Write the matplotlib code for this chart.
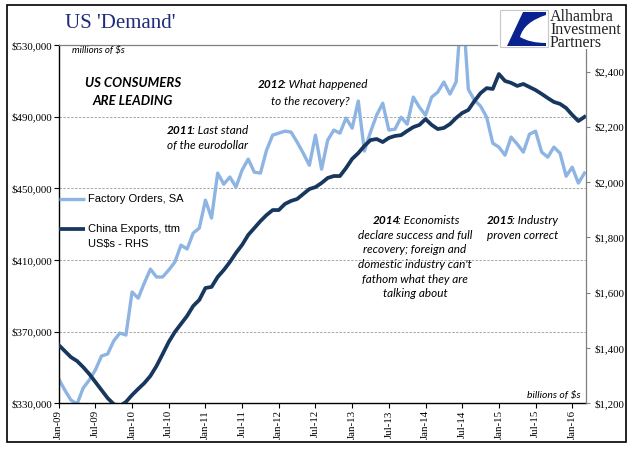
import numpy as np
import matplotlib
matplotlib.use("Agg")
from matplotlib import pyplot as plt
from matplotlib.path import Path
from matplotlib.patches import PathPatch, Rectangle
from matplotlib.ticker import FuncFormatter, FixedLocator

# monthly, Jan-09 .. Mar-16
months = np.arange(87)
tick_pos = list(range(0, 85, 6))
tick_labels = ['Jan-09', 'Jul-09', 'Jan-10', 'Jul-10', 'Jan-11', 'Jul-11', 'Jan-12', 'Jul-12',
               'Jan-13', 'Jul-13', 'Jan-14', 'Jul-14', 'Jan-15', 'Jul-15', 'Jan-16']

# Factory Orders, SA (millions of $)
factory = [343600, 337400, 331800, 329600, 338500, 343000, 348600, 356400, 357500, 364800,
           369200, 368100, 392100, 388700, 397100, 404900, 400500, 400500, 404400, 408800,
           418300, 416100, 425000, 427800, 443400, 433400, 458500, 452300, 456300, 450700,
           460200, 466300, 459000, 458500, 471300, 479700, 480800, 481900, 481400, 475800,
           469600, 462900, 479700, 460700, 476900, 482500, 480800, 489200, 483600, 498700,
           470800, 481400, 490800, 497500, 482500, 483000, 489700, 485800, 500900, 495300,
           490800, 500900, 503700, 509300, 502600, 509300, 556000, 505300, 499200, 495900,
           489700, 475200, 473000, 468500, 478600, 474700, 470200, 480200, 481900, 470200,
           467400, 473000, 469600, 456800, 461800, 452900, 458500]

# China Exports, ttm (billions of US$)
exports = [1411, 1389, 1367, 1353, 1331, 1306, 1277, 1248, 1219, 1197,
           1190, 1205, 1230, 1252, 1273, 1299, 1335, 1378, 1422, 1458,
           1487, 1516, 1552, 1574, 1617, 1621, 1657, 1682, 1711, 1744,
           1773, 1809, 1834, 1859, 1881, 1899, 1899, 1921, 1932, 1939,
           1957, 1975, 1982, 1997, 2015, 2022, 2022, 2051, 2084, 2105,
           2131, 2152, 2156, 2145, 2160, 2167, 2170, 2185, 2199, 2207,
           2228, 2207, 2192, 2196, 2210, 2232, 2250, 2261, 2293, 2322,
           2340, 2337, 2391, 2366, 2359, 2348, 2355, 2344, 2333, 2319,
           2304, 2290, 2283, 2268, 2243, 2221, 2236]

light = '#8db4e2'
dark = '#17375e'
serif = 'Liberation Serif'
note = 'Lato'

W, H = 641, 461
fig = plt.figure(figsize=(W / 100, H / 100), dpi=100)
fig.patch.set_facecolor('white')

# plot area in pixels: x 58.7..585.7, y 45..403.3
ax = fig.add_axes([58.7 / W, 1 - 403.3 / H, 527 / W, 358.3 / H])
ax.plot(months, factory, color=light, lw=2.4, solid_joinstyle='round')
ax.set_xlim(0, 86.2)
ax.set_ylim(330000, 530000)
ax.set_yticks(np.arange(330000, 530001, 40000))
ax.yaxis.set_major_formatter(FuncFormatter(lambda v, p: '${:,.0f}'.format(v)))
ax.xaxis.set_major_locator(FixedLocator(tick_pos))
ax.set_xticklabels(tick_labels, rotation=90, fontfamily=serif, fontsize=7.8)
ax.tick_params(axis='x', length=3.5, width=0.8, pad=1.5)
ax.tick_params(axis='y', length=3.5, width=0.8, pad=1.5, labelsize=7.8)
for lab in ax.get_yticklabels():
    lab.set_fontfamily(serif)
for y in [370000, 410000, 450000, 490000]:
    ax.axhline(y, color='#a6a6a6', lw=0.7, ls=(0, (2.5, 1.5)), zorder=0)
ax.spines['right'].set_visible(False)
ax.spines['top'].set_color('#808080')
ax.spines['top'].set_linewidth(0.9)
ax.spines['left'].set_linewidth(1.0)
ax.spines['bottom'].set_linewidth(1.0)

ax2 = ax.twinx()
ax2.plot(months, exports, color=dark, lw=2.7, solid_joinstyle='round')
ax2.set_ylim(1200, 2496)
ax2.set_yticks(np.arange(1200, 2401, 200))
ax2.yaxis.set_major_formatter(FuncFormatter(lambda v, p: '${:,.0f}'.format(v)))
ax2.tick_params(axis='y', length=3, width=0.8, pad=3, labelsize=7.8, color='#808080')
for lab in ax2.get_yticklabels():
    lab.set_fontfamily(serif)
for s in ['left', 'top', 'bottom']:
    ax2.spines[s].set_visible(False)
ax2.spines['right'].set_color('#808080')
ax2.spines['right'].set_linewidth(0.9)

# overlay in pixel coordinates for frame, title, logo and notes
ov = fig.add_axes([0, 0, 1, 1], zorder=10)
ov.set_xlim(0, W)
ov.set_ylim(H, 0)
ov.axis('off')
ov.patch.set_alpha(0)

ov.add_patch(Rectangle((7, 5), 619, 437, fill=False, ec='black', lw=1.2))
ov.text(65, 23, "US 'Demand'", fontfamily=serif, fontsize=15, color='#1f2a7a', va='center')

# logo
ov.add_patch(Rectangle((498, 7), 90, 42.5, fc='white', ec='none'))
ov.add_patch(Rectangle((500, 10), 48, 36.7, fc='white', ec='#c8c8c8', lw=0.8))
verts = [(523, 12), (546, 12), (546, 15), (524, 22), (520, 37), (530, 43), (546, 43),
         (546, 46), (507, 46), (523, 12)]
codes = [Path.MOVETO, Path.LINETO, Path.LINETO, Path.CURVE3, Path.CURVE3, Path.CURVE3,
         Path.CURVE3, Path.LINETO, Path.LINETO, Path.CLOSEPOLY]
ov.add_patch(PathPatch(Path(verts, codes), fc='#0a2290', ec='none'))
ov.text(550, 30, 'Alhambra\nInvestment\nPartners', fontfamily=serif, fontsize=11.5,
        color='#222222', va='center', ha='left', linespacing=0.76)

# legend
ov.plot([58.7, 85], [199, 199], color=light, lw=2.4, solid_capstyle='butt')
ov.plot([58.7, 85], [229.3, 229.3], color=dark, lw=2.7, solid_capstyle='butt')
ov.text(88, 199, 'Factory Orders, SA', fontfamily='Liberation Sans', fontsize=8, va='center')
ov.text(88, 229.3, 'China Exports, ttm', fontfamily='Liberation Sans', fontsize=8, va='center')
ov.text(88, 243.5, 'US$s - RHS', fontfamily='Liberation Sans', fontsize=8, va='center')

ov.text(72, 50, 'millions of $s', fontfamily=note, style='italic', fontsize=7, va='center')
ov.text(581, 395, 'billions of $s', fontfamily=note, style='italic', fontsize=7.5,
        va='center', ha='right')
ov.text(133, 83, 'US CONSUMERS', fontfamily=note, style='italic', weight='bold',
        fontsize=9.5, va='center', ha='center')
ov.text(133, 101, 'ARE LEADING', fontfamily=note, style='italic', weight='bold',
        fontsize=9.5, va='center', ha='center')


def mixed(x, y, bold, rest):
    t = ov.text(x, y, bold, fontfamily=note, style='italic', weight='bold',
                fontsize=8.5, va='center', ha='left')
    ov.annotate(rest, xy=(1, 0.5), xycoords=t, xytext=(-2.5, 0), textcoords='offset pixels',
                fontfamily=note, style='italic', fontsize=8.5, va='center', ha='left')


def plain(x, y, s, ha='center'):
    ov.text(x, y, s, fontfamily=note, style='italic', fontsize=8.5, va='center', ha=ha)


mixed(258, 84, '2012', ': What happened')
plain(310, 101, 'to the recovery?')
mixed(167, 130, '2011', ': Last stand')
plain(167, 145, 'of the eurodollar', ha='left')
mixed(373, 220, '2014', ': Economists')
for i, s in enumerate(['declare success and full', 'recovery; foreign and',
                       "domestic industry can't", 'fathom what they are', 'talking about']):
    plain(415, 235 + 14.7 * i, s)
mixed(487, 220, '2015', ': Industry')
plain(487, 235, 'proven correct', ha='left')

fig.savefig('out.png', dpi=100)
